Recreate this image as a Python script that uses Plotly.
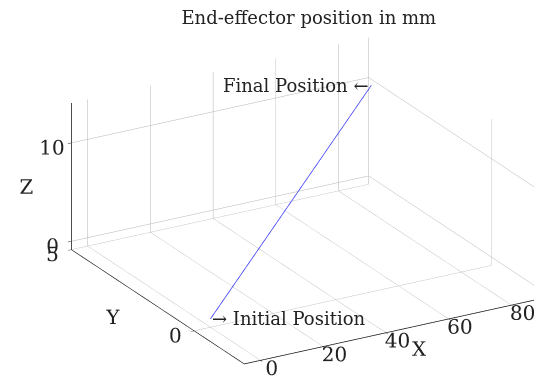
import plotly.graph_objects as go

# Data
x_pos = [0, 85]
y_pos = [0, 4.3]
z_pos = [0, 10.7]
labels = ["→ Initial Position", "Final Position ←"]
x_ticks = [0, 20, 40, 60, 80]
y_ticks = [0, 5]
z_ticks = [0, 10]
x_range = [-5.2, 89.6]
y_range = [-2.04, 5.0]
z_range = [-0.85, 14.05]

FONT = "DejaVu Serif"
FS = 18

fig = go.Figure()
fig.add_trace(go.Scatter3d(x=x_pos, y=y_pos, z=z_pos, mode="lines",
                           line=dict(color="#3535f5", width=1.5),
                           hoverinfo="skip", showlegend=False))

def axis(title, rng, ticks):
    return dict(title=dict(text=title, font=dict(family=FONT, size=20, color="#222")),
                range=rng, tickvals=ticks, ticktext=[str(t) for t in ticks],
                tickfont=dict(family=FONT, size=15.5, color="#222"), tickangle=0,
                showgrid=True, gridcolor="#b4b4b4", gridwidth=1,
                showline=True, linecolor="#111", linewidth=1.5,
                ticks="inside", ticklen=4, tickcolor="#222",
                zeroline=False, showbackground=False, showspikes=False,
                autorange=False)

k = 1.76
dirv = (-0.462, -0.801, 0.3815)
d = 2.0
c = (-0.124, 0.0666, -0.0104)
fig.update_layout(
    width=542, height=390,
    margin=dict(l=0, r=0, t=0, b=0),
    paper_bgcolor="white",
    title=dict(text="End-effector position in mm", x=0.555, xanchor="center",
               y=0.975, yanchor="middle", font=dict(family=FONT, size=18, color="#222")),
    scene=dict(
        domain=dict(x=[0.0, 1.0], y=[0.0, 1.0]),
        xaxis=axis("X", x_range, x_ticks),
        yaxis=axis("Y", y_range, y_ticks),
        zaxis=axis("Z", z_range, z_ticks),
        aspectmode="manual",
        aspectratio=dict(x=1 * k, y=1.008 * k, z=0.462 * k),
        camera=dict(eye=dict(x=c[0] + dirv[0] * d, y=c[1] + dirv[1] * d, z=c[2] + dirv[2] * d),
                    up=dict(x=0, y=0, z=1), center=dict(x=c[0], y=c[1], z=c[2]),
                    projection=dict(type="orthographic")),
        annotations=[
            dict(x=x_pos[0], y=y_pos[0], z=z_pos[0], text=labels[0], showarrow=False,
                 xanchor="left", font=dict(family=FONT, size=FS, color="#222")),
            dict(x=x_pos[1], y=y_pos[1], z=z_pos[1], text=labels[1], showarrow=False,
                 xanchor="right", font=dict(family=FONT, size=FS, color="#222")),
        ],
    ),
)
fig.write_html("out.html")
